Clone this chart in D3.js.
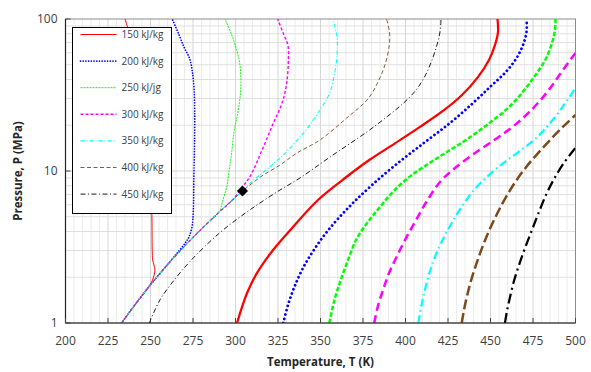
<!DOCTYPE html>
<html>
<head>
<meta charset="utf-8">
<script src="https://cdn.jsdelivr.net/npm/d3@7"></script>
<style>
  body { margin: 0; background: #fff; }
  svg { display: block; }
</style>
</head>
<body>
<svg id="chart"></svg>
<script>
// values: [temperature K, pressure MPa]
var tempTicks = [200, 225, 250, 275, 300, 325, 350, 375, 400, 425, 450, 475, 500];
var pressTicks = [1, 10, 100];
var legendLabels = ["150 kJ/kg", "200 kJ/kg", "250 kJ/jg", "300 kJ/kg", "350 kJ/kg", "400 kJ/kg", "450 kJ/kg"];
var criticalPoint = [304.1, 7.38];

// thin curves (left group)
var h150 = [[233,1],[240,1.28],[249.7,1.78],[251.6,1.98],[252.6,2.23],[251.3,2.6],[251,3],[250.9,4],[250.8,5.2],[250.3,7],[249.5,10],[247.5,20],[244,40],[240,65],[235,100]];
var h200 = [[233,1],[240,1.28],[250,1.785],[260,2.42],[270.3,3.35],[272.6,3.68],[274.4,4.28],[275.2,5.5],[275.5,9],[275.9,15],[276,25],[275.6,35],[274.6,45],[273,55],[269.8,65],[266.5,80],[262.8,100]];
var h250 = [[233,1],[240,1.28],[250,1.785],[260,2.42],[270,3.2],[280,4.16],[290.3,5.37],[292.6,6.44],[295,8],[296.2,10],[297.5,12.5],[299.1,18],[301.3,24],[302.6,30],[303.2,38],[302.6,50],[300.8,62],[297.8,78.5],[293.8,100]];
var h300 = [[233,1],[240,1.28],[250,1.785],[260,2.42],[270,3.2],[280,4.16],[290,5.32],[298.5,6.5],[304.2,7.9],[308.5,9.18],[316.4,14.4],[322.2,20.6],[327.2,27.6],[330.1,37.7],[331.1,53.8],[330.8,67.4],[328.5,78.5],[324.8,100]];
var h350 = [[233,1],[240,1.28],[250,1.785],[260,2.42],[270,3.2],[280,4.16],[290,5.32],[300,6.71],[304.1,7.38],[308.5,8.3],[320.3,10.67],[330.9,13.7],[341.9,18.9],[350.3,25.9],[355.6,33.1],[359.1,49.8],[359.9,64.4],[359.5,78.5],[357.2,100]];
var h400 = [[233,1],[240,1.28],[250,1.785],[260,2.42],[270,3.2],[280,4.16],[290,5.32],[300,6.71],[304.1,7.38],[310,8.34],[316.4,9.41],[326.2,10.95],[336,13.1],[349.7,16],[365.4,22.3],[377.9,29.8],[383.8,38.5],[387.9,49.8],[390.5,67.4],[390.6,82.1],[388.8,100]];
var h450 = [[249.3,1],[255.6,1.42],[265.4,2.01],[275.2,2.68],[289.9,3.85],[302.6,4.98],[314.4,6.16],[326.2,7.5],[337.9,8.99],[355.6,12.36],[377.2,18.05],[388.9,22.66],[398.7,27.9],[406.2,34.1],[411.5,42.2],[415.6,53.8],[418.5,67.4],[420.3,82.1],[420.9,100]];

// thick curves (right group)
var r150 = [[300.9,1],[306.8,1.575],[312.6,2.13],[322.1,3.02],[333.8,4.28],[348.5,6.45],[365.6,9.2],[379.1,11.9],[393.8,15.2],[408.5,19.5],[423.2,25.4],[433.2,31.6],[442.6,41.5],[449.1,53.8],[452.6,67.4],[454.4,82.1],[454.1,100]];
var r200 = [[328.1,1],[330.9,1.314],[334.4,1.7],[339.7,2.3],[346.8,3.11],[355.6,4.22],[367.4,5.89],[380.3,8.09],[395.6,11.3],[411.5,15.5],[426.2,20.7],[439.1,27.6],[449.7,35.7],[458.5,44.2],[465,54.6],[469.1,67.4],[471.2,82.1],[471.2,100]];
var r250 = [[355.2,1],[357.9,1.375],[361.5,1.86],[366.2,2.6],[371.5,3.62],[377.9,4.62],[385,5.8],[392.6,7.28],[401.5,9],[411.5,10.8],[423.2,13.1],[435.6,16],[447.9,20.1],[459.7,25.6],[468.5,32.6],[475.6,41.5],[481.5,52.1],[485,63.5],[487.4,78.5],[488.2,92.7],[488.2,100]];
var r300 = [[381.6,1],[383.8,1.294],[386.8,1.65],[390.3,2.13],[395,2.76],[400.3,3.62],[406.2,4.76],[412.6,6.35],[420.3,8.47],[429.1,10.46],[439.1,12.7],[449.7,15.3],[459.7,18.3],[469.1,22.3],[477.9,28],[485.6,35.7],[492.6,46.2],[500,59.7]];
var r350 = [[407.5,1],[409.7,1.354],[412.6,1.86],[416.2,2.52],[420.9,3.36],[426.2,4.35],[432.6,5.71],[440.3,7.5],[449.1,9.41],[458.5,11.5],[467.9,13.7],[477.4,16.7],[485.6,21],[493.2,27.2],[500,35.2]];
var r400 = [[433.1,1],[434.4,1.218],[436.2,1.505],[438.5,1.89],[441.5,2.41],[445,3.11],[449.1,4.03],[453.8,5.21],[459.1,6.74],[465,8.6],[471.5,10.8],[478.5,13.3],[486.2,16.5],[493.2,19.8],[500,23.4]];
var r450 = [[458.5,1],[459.7,1.199],[461.5,1.483],[463.8,1.89],[466.8,2.41],[470.3,3.11],[474.4,4.09],[478.5,5.37],[482.6,6.95],[487.4,8.86],[493.2,11.3],[500,14.2]];

var thinSeries = [h150, h200, h250, h300, h350, h400, h450];
var thickSeries = [r150, r200, r250, r300, r350, r400, r450];

var thinStyle = [
  {color: "#ff0000", width: 1,   dash: null, cap: "butt"},
  {color: "#0000ff", width: 1.7, dash: "0.01 2.7", cap: "round"},
  {color: "#00ee00", width: 0.9, dash: "2 1", cap: "butt"},
  {color: "#ff00ff", width: 1.4, dash: "3 2", cap: "butt"},
  {color: "#00ffff", width: 1.1, dash: "4 2 1 2", cap: "butt"},
  {color: "#7f5f3f", width: 1,   dash: "4 2.5", cap: "butt"},
  {color: "#000000", width: 0.9, dash: "5 2.5 1 2.5", cap: "butt"}
];
var thickStyle = [
  {color: "#ff0000", width: 2.25, dash: null, cap: "butt"},
  {color: "#0000ff", width: 2.8, dash: "0.01 4.4", cap: "round"},
  {color: "#00ff00", width: 2.5, dash: "4.5 2", cap: "butt"},
  {color: "#ff00ff", width: 2.5, dash: "8 4.5", cap: "butt"},
  {color: "#00ffff", width: 2.25, dash: "8 3.5 1.5 3.5", cap: "butt"},
  {color: "#7a4a1a", width: 2.5, dash: "10 4", cap: "butt"},
  {color: "#000000", width: 2.25, dash: "10 4 2 4", cap: "butt"}
];

var width = 591, height = 372;
var margin = {top: 19, right: 15.5, bottom: 49, left: 65.5};
var plotW = width - margin.left - margin.right;
var plotH = height - margin.top - margin.bottom;

var svg = d3.select("#chart")
    .attr("width", width)
    .attr("height", height)
    .style("font-family", "'Open Sans', sans-serif");

var x = d3.scaleLinear().domain([200, 500]).range([0, plotW]);
var y = d3.scaleLog().domain([1, 100]).range([plotH, 0]);

svg.append("defs").append("clipPath").attr("id", "plotclip")
  .append("rect").attr("width", plotW).attr("height", plotH);

var g = svg.append("g").attr("transform", "translate(" + margin.left + "," + margin.top + ")");

// grid
var minorT = d3.range(205, 500, 5).filter(function(t) { return t % 25 !== 0; });
var majorT = tempTicks.slice(1, -1);
var minorP = [2,3,4,5,6,7,8,9,20,30,40,50,60,70,80,90];

g.selectAll(".vminor").data(minorT).join("line")
  .attr("x1", d => x(d)).attr("x2", d => x(d)).attr("y1", 0).attr("y2", plotH)
  .attr("stroke", "#ececec").attr("stroke-width", 1);
g.selectAll(".hminor").data(minorP).join("line")
  .attr("y1", d => y(d)).attr("y2", d => y(d)).attr("x1", 0).attr("x2", plotW)
  .attr("stroke", "#e0e0e0").attr("stroke-width", 1);
g.selectAll(".vmajor").data(majorT).join("line")
  .attr("x1", d => x(d)).attr("x2", d => x(d)).attr("y1", 0).attr("y2", plotH)
  .attr("stroke", "#d6d6d6").attr("stroke-width", 1);
g.append("line").attr("x1", 0).attr("x2", plotW).attr("y1", y(10)).attr("y2", y(10))
  .attr("stroke", "#d6d6d6");

// frame
g.append("rect").attr("width", plotW).attr("height", plotH)
  .attr("fill", "none").attr("stroke", "#8c8c8c").attr("stroke-width", 1);

// curves
var line = d3.line()
  .x(d => x(d[0])).y(d => y(d[1]))
  .curve(d3.curveCatmullRom.alpha(0.5));

var curves = g.append("g").attr("clip-path", "url(#plotclip)");

function drawSet(series, styles) {
  series.forEach(function(s, i) {
    var st = styles[i];
    curves.append("path")
      .datum(s)
      .attr("d", line)
      .attr("fill", "none")
      .attr("stroke", st.color)
      .attr("stroke-width", st.width)
      .attr("stroke-linecap", st.cap)
      .attr("stroke-dasharray", st.dash);
  });
}
drawSet(thinSeries, thinStyle);
drawSet(thickSeries, thickStyle);

// critical point marker
g.append("path")
  .attr("d", d3.symbol(d3.symbolSquare, 62)())
  .attr("transform", "translate(" + x(criticalPoint[0]) + "," + y(criticalPoint[1]) + ") rotate(45)")
  .attr("fill", "#000");

// axes lines
g.append("line").attr("x1", 0).attr("x2", plotW).attr("y1", plotH).attr("y2", plotH)
  .attr("stroke", "#222").attr("stroke-width", 1.2);
g.append("line").attr("x1", 0).attr("x2", 0).attr("y1", 0).attr("y2", plotH)
  .attr("stroke", "#222").attr("stroke-width", 1.2);

// ticks (inside) and labels
g.selectAll(".xtick").data(tempTicks).join("line")
  .attr("x1", d => x(d)).attr("x2", d => x(d)).attr("y1", plotH).attr("y2", plotH - 5)
  .attr("stroke", "#444");
g.selectAll(".xlab").data(tempTicks).join("text")
  .attr("x", d => x(d)).attr("y", plotH + 22)
  .attr("text-anchor", "middle")
  .attr("font-size", 12).attr("fill", "#404040")
  .text(d => d);

g.selectAll(".ytick").data(pressTicks).join("line")
  .attr("y1", d => y(d)).attr("y2", d => y(d)).attr("x1", 0).attr("x2", 5)
  .attr("stroke", "#444");
g.selectAll(".ylab").data(pressTicks).join("text")
  .attr("x", -8).attr("y", d => y(d) + 4)
  .attr("text-anchor", "end")
  .attr("font-size", 12).attr("fill", "#404040")
  .text(d => d);

// axis titles
svg.append("text")
  .attr("x", margin.left + plotW / 2).attr("y", 366)
  .attr("text-anchor", "middle")
  .attr("font-size", 11.5).attr("font-weight", "bold").attr("fill", "#262626")
  .text("Temperature, T (K)");
svg.append("text")
  .attr("transform", "translate(22," + (margin.top + plotH / 2) + ") rotate(-90)")
  .attr("text-anchor", "middle")
  .attr("font-size", 11.5).attr("font-weight", "bold").attr("fill", "#262626")
  .text("Pressure, P (MPa)");

// legend
var legend = svg.append("g").attr("transform", "translate(72.5,27.5)");
legend.append("rect").attr("width", 99).attr("height", 186)
  .attr("fill", "#fff").attr("stroke", "#000").attr("stroke-width", 1);
var items = legend.selectAll(".item").data(legendLabels).join("g")
  .attr("transform", (d, i) => "translate(0," + (7 + i * 26.6) + ")");
items.append("line")
  .attr("x1", 8).attr("x2", 44).attr("y1", 0).attr("y2", 0)
  .attr("stroke", (d, i) => thinStyle[i].color)
  .attr("stroke-width", (d, i) => thinStyle[i].width)
  .attr("stroke-linecap", (d, i) => thinStyle[i].cap)
  .attr("stroke-dasharray", (d, i) => thinStyle[i].dash);
items.append("text")
  .attr("x", 49).attr("y", 3.5)
  .attr("font-size", 10).attr("fill", "#404040")
  .text(d => d);
</script>
</body>
</html>
